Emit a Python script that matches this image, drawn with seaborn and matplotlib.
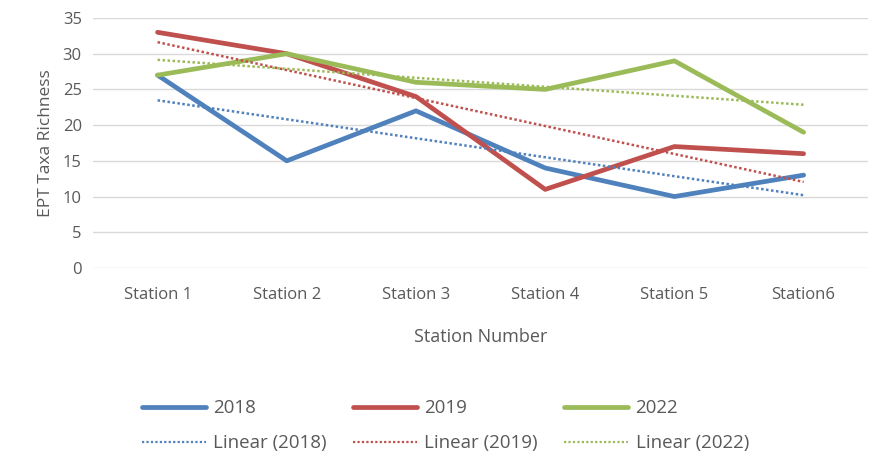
import pandas as pd
import seaborn as sns
import matplotlib.pyplot as plt
from matplotlib.lines import Line2D

stations = ["Station 1", "Station 2", "Station 3", "Station 4", "Station 5", "Station6"]
years = ["2018", "2019", "2022"]
rich_2018 = [27, 15, 22, 14, 10, 13]
rich_2019 = [33, 30, 24, 11, 17, 16]
rich_2022 = [27, 30, 26, 25, 29, 19]

colors = {"2018": "#4F81BD", "2019": "#C0504D", "2022": "#9BBB59"}

rows = []
for yr, vals in zip(years, [rich_2018, rich_2019, rich_2022]):
    for i, v in enumerate(vals):
        rows.append((yr, i, v))
df = pd.DataFrame(rows, columns=["Year", "Pos", "Richness"])

sns.set_theme(style="white")
plt.rcParams['font.family'] = ['Open Sans', 'DejaVu Sans']
grey = "#595959"

fig = plt.figure(figsize=(8.77, 4.62), dpi=100)
ax = fig.add_axes([0.106, 0.42, 0.884, 0.541])

# series lines
sns.lineplot(data=df, x="Pos", y="Richness", hue="Year", palette=colors,
             linewidth=3.4, ax=ax, legend=False, zorder=3)

# linear trendlines
for yr in years:
    sub = df[df["Year"] == yr]
    sns.regplot(data=sub, x="Pos", y="Richness", ax=ax, scatter=False, ci=None,
                truncate=True, color=colors[yr],
                line_kws={"linestyle": (0, (1, 1)), "linewidth": 1.8, "zorder": 4})

handles = []
for yr in years:
    handles.append(Line2D([], [], color=colors[yr], lw=3.4, label=yr))
    handles.append(Line2D([], [], color=colors[yr], lw=1.6, linestyle=(0, (1, 1)),
                          label=f"Linear ({yr})"))

ax.set_xlim(-0.5, 5.5)
ax.set_ylim(0, 35)
ax.set_yticks(range(0, 36, 5))
ax.set_xticks(range(len(stations)))
ax.set_xticklabels(stations)
ax.yaxis.grid(True, color="#D9D9D9", linewidth=1)
ax.set_axisbelow(True)
for s in ax.spines.values():
    s.set_visible(False)
ax.tick_params(axis="both", colors=grey, labelsize=12, length=0)
ax.tick_params(axis="x", pad=14)
ax.tick_params(axis="y", pad=8)
ax.set_xlabel("Station Number", color=grey, fontsize=13, labelpad=18)
ax.set_ylabel("EPT Taxa Richness", color=grey, fontsize=12.5, labelpad=6)

fig.legend(handles=handles, ncol=3, loc="upper center", bbox_to_anchor=(0.508, 0.152),
           frameon=False, fontsize=13.5, labelcolor=grey, handlelength=3.4,
           columnspacing=1.4, handletextpad=0.4, labelspacing=0.9, borderaxespad=0,
           bbox_transform=fig.transFigure)

fig.savefig("out.png", dpi=100)
